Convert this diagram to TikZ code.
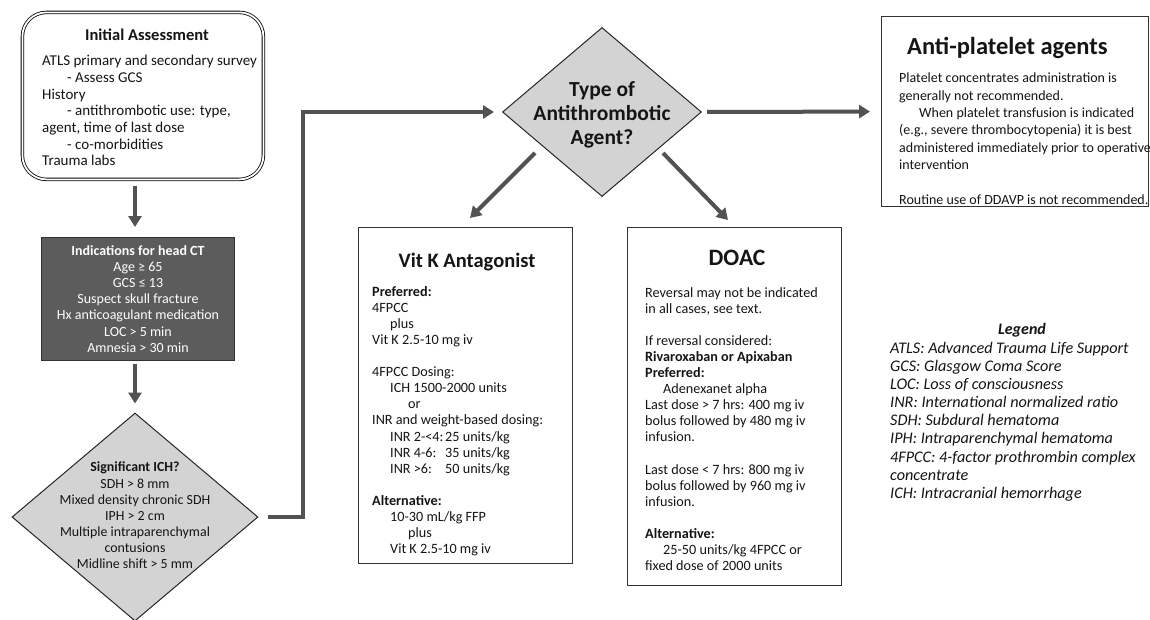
\documentclass[tikz,border=0pt]{standalone}
\usepackage{fontspec}
\setmainfont{Carlito}
\usetikzlibrary{shapes.geometric,arrows.meta}
\definecolor{arr}{HTML}{525252}
\definecolor{ctfill}{HTML}{5C5C5C}
\definecolor{dia}{HTML}{D3D3D3}
\definecolor{txt}{HTML}{151515}
\tikzset{
  arrowline/.style={draw=arr, line width=4pt, -{Triangle[length=11pt,width=13pt]}},
  body/.style={font=\fontsize{14.2}{16.1}\selectfont, align=left, inner sep=0pt, anchor=north west, text=txt},
  cbody/.style={font=\fontsize{13.9}{16.1}\selectfont, align=center, inner sep=0pt, anchor=north, text=txt},
  boxframe/.style={draw=black!80, line width=1.1pt, fill=white, inner sep=0pt},
  diamondshape/.style={shape=diamond, draw=black!85, line width=1pt, fill=dia, inner sep=0pt},
  bigtitle/.style={font=\bfseries\fontsize{21}{26}\selectfont, inner sep=0pt, text=txt},
}
\begin{document}
\begin{tikzpicture}[x=1pt,y=-1pt]
\useasboundingbox (0,0) rectangle (1150,619);
\fill[white] (0,0) rectangle (1150,619);

% Initial assessment
\node[draw=black, double, double distance=1.8pt, line width=0.8pt, rounded corners=24pt,
      minimum width=241pt, minimum height=167pt, anchor=north west, inner sep=0pt] (init) at (22,12) {};
\node[font=\bfseries\fontsize{16.5}{18}\selectfont, inner sep=0pt, text=txt] (initT) at (147,35) {Initial Assessment};
\node[body, font=\fontsize{15}{16.7}\selectfont] (initB) at (42,55) {ATLS primary and secondary survey\\
\hspace*{25pt}- Assess GCS\\
History\\
\hspace*{25pt}- antithrombotic use: type,\\
agent, time of last dose\\
\hspace*{25pt}- co-morbidities\\
Trauma labs};

% Head CT
\node[fill=ctfill, draw=black!80, line width=1pt, minimum width=193pt, minimum height=123pt,
      anchor=north west, inner sep=0pt] (ct) at (41,237) {};
\node[cbody, text=white, font=\fontsize{14}{16.2}\selectfont] (ctB) at (138,245) {\textbf{Indications for head CT}\\
Age ≥ 65\\
GCS ≤ 13\\
Suspect skull fracture\\
Hx anticoagulant medication\\
LOC > 5 min\\
Amnesia > 30 min};

% Significant ICH diamond
\node[diamondshape, minimum width=246pt, minimum height=208pt] (ich) at (135,517) {};
\node[cbody] (ichB) at (135,462) {\textbf{Significant ICH?}\\
SDH > 8 mm\\
Mixed density chronic SDH\\
IPH > 2 cm\\
Multiple intraparenchymal\\
contusions\\
Midline shift > 5 mm};

% Type of antithrombotic agent diamond
\node[diamondshape, minimum width=199pt, minimum height=169pt] (type) at (602,112) {};
\node[font=\bfseries\fontsize{21.5}{24}\selectfont, align=center, inner sep=0pt, text=txt] (typeT) at (602,115) {Type of\\Antithrombotic\\Agent?};

% Vit K box
\node[boxframe, minimum width=214pt, minimum height=336pt, anchor=north west] (vitk) at (358,227) {};
\node[bigtitle, font=\bfseries\fontsize{20.5}{26}\selectfont] (vitkT) at (467,262) {Vit K Antagonist};
\node[body] (vitkB) at (372,286) {\textbf{Preferred:}\\
4FPCC\\
\hspace*{18pt}plus\\
Vit K 2.5-10 mg iv\\
\mbox{}\\
4FPCC Dosing:\\
\hspace*{18pt}ICH 1500-2000 units\\
\hspace*{36pt}or\\
INR and weight-based dosing:\\
\hspace*{18pt}\makebox[55pt][l]{INR 2-<4:}25 units/kg\\
\hspace*{18pt}\makebox[55pt][l]{INR 4-6:}35 units/kg\\
\hspace*{18pt}\makebox[55pt][l]{INR >6:}50 units/kg\\
\mbox{}\\
\textbf{Alternative:}\\
\hspace*{18pt}10-30 mL/kg FFP\\
\hspace*{36pt}plus\\
\hspace*{18pt}Vit K 2.5-10 mg iv};

% DOAC box
\node[boxframe, minimum width=214pt, minimum height=358pt, anchor=north west] (doac) at (627,227) {};
\node[bigtitle, font=\bfseries\fontsize{23.5}{26}\selectfont] (doacT) at (737,258) {DOAC};
\node[body] (doacB) at (645,287) {Reversal may not be indicated\\
in all cases, see text.\\
\mbox{}\\
If reversal considered:\\
\textbf{Rivaroxaban or Apixaban}\\
\textbf{Preferred:}\\
\hspace*{18pt}Adenexanet alpha\\
Last dose > 7 hrs: 400 mg iv\\
bolus followed by 480 mg iv\\
infusion.\\
\mbox{}\\
Last dose < 7 hrs: 800 mg iv\\
bolus followed by 960 mg iv\\
infusion.\\
\mbox{}\\
\textbf{Alternative:}\\
\hspace*{18pt}25-50 units/kg 4FPCC or\\
fixed dose of 2000 units};

% Anti-platelet box
\node[boxframe, minimum width=267pt, minimum height=190pt, anchor=north west] (anti) at (881,16) {};
\node[bigtitle, anchor=west, font=\bfseries\fontsize{24.5}{28}\selectfont] (antiT) at (907,48) {Anti-platelet agents};
\node[body, font=\fontsize{14}{17.3}\selectfont] (antiB) at (899,73) {Platelet concentrates administration is\\
generally not recommended.\\
\hspace*{20pt}When platelet transfusion is indicated\\
(e.g., severe thrombocytopenia) it is best\\
administered immediately prior to operative\\
intervention\\
\mbox{}\\
Routine use of DDAVP is not recommended.};

% Legend
\node[font=\bfseries\itshape\fontsize{16}{18}\selectfont, inner sep=0pt, text=txt] (legT) at (1022,330) {Legend};
\node[body, font=\itshape\fontsize{16.2}{18.1}\selectfont] (legB) at (890,342) {ATLS: Advanced Trauma Life Support\\
GCS: Glasgow Coma Score\\
LOC: Loss of consciousness\\
INR: International normalized ratio\\
SDH: Subdural hematoma\\
IPH: Intraparenchymal hematoma\\
4FPCC: 4-factor prothrombin complex\\
concentrate\\
ICH: Intracranial hemorrhage};

% Connectors
\draw[arrowline, shorten <=6pt, shorten >=10pt] (init.south -| ich.north) -- (ct.north -| ich.north);
\draw[arrowline, shorten <=3pt, shorten >=9pt] (ct.south -| ich.north) -- (ich.north);
\coordinate (bend) at (303,112);
\draw[arrowline, shorten <=9pt, shorten >=8pt] (ich.east) -| (bend) -- (type.west);
\draw[arrowline, shorten <=5pt, shorten >=11pt] (type.east) -- (anti.west);
\coordinate (d1s) at (535,153);
\coordinate (d1e) at (470,218);
\coordinate (d2s) at (663,153);
\coordinate (d2e) at (728,220);
\draw[arrowline] (d1s) -- (d1e);
\draw[arrowline] (d2s) -- (d2e);
\end{tikzpicture}
\end{document}
